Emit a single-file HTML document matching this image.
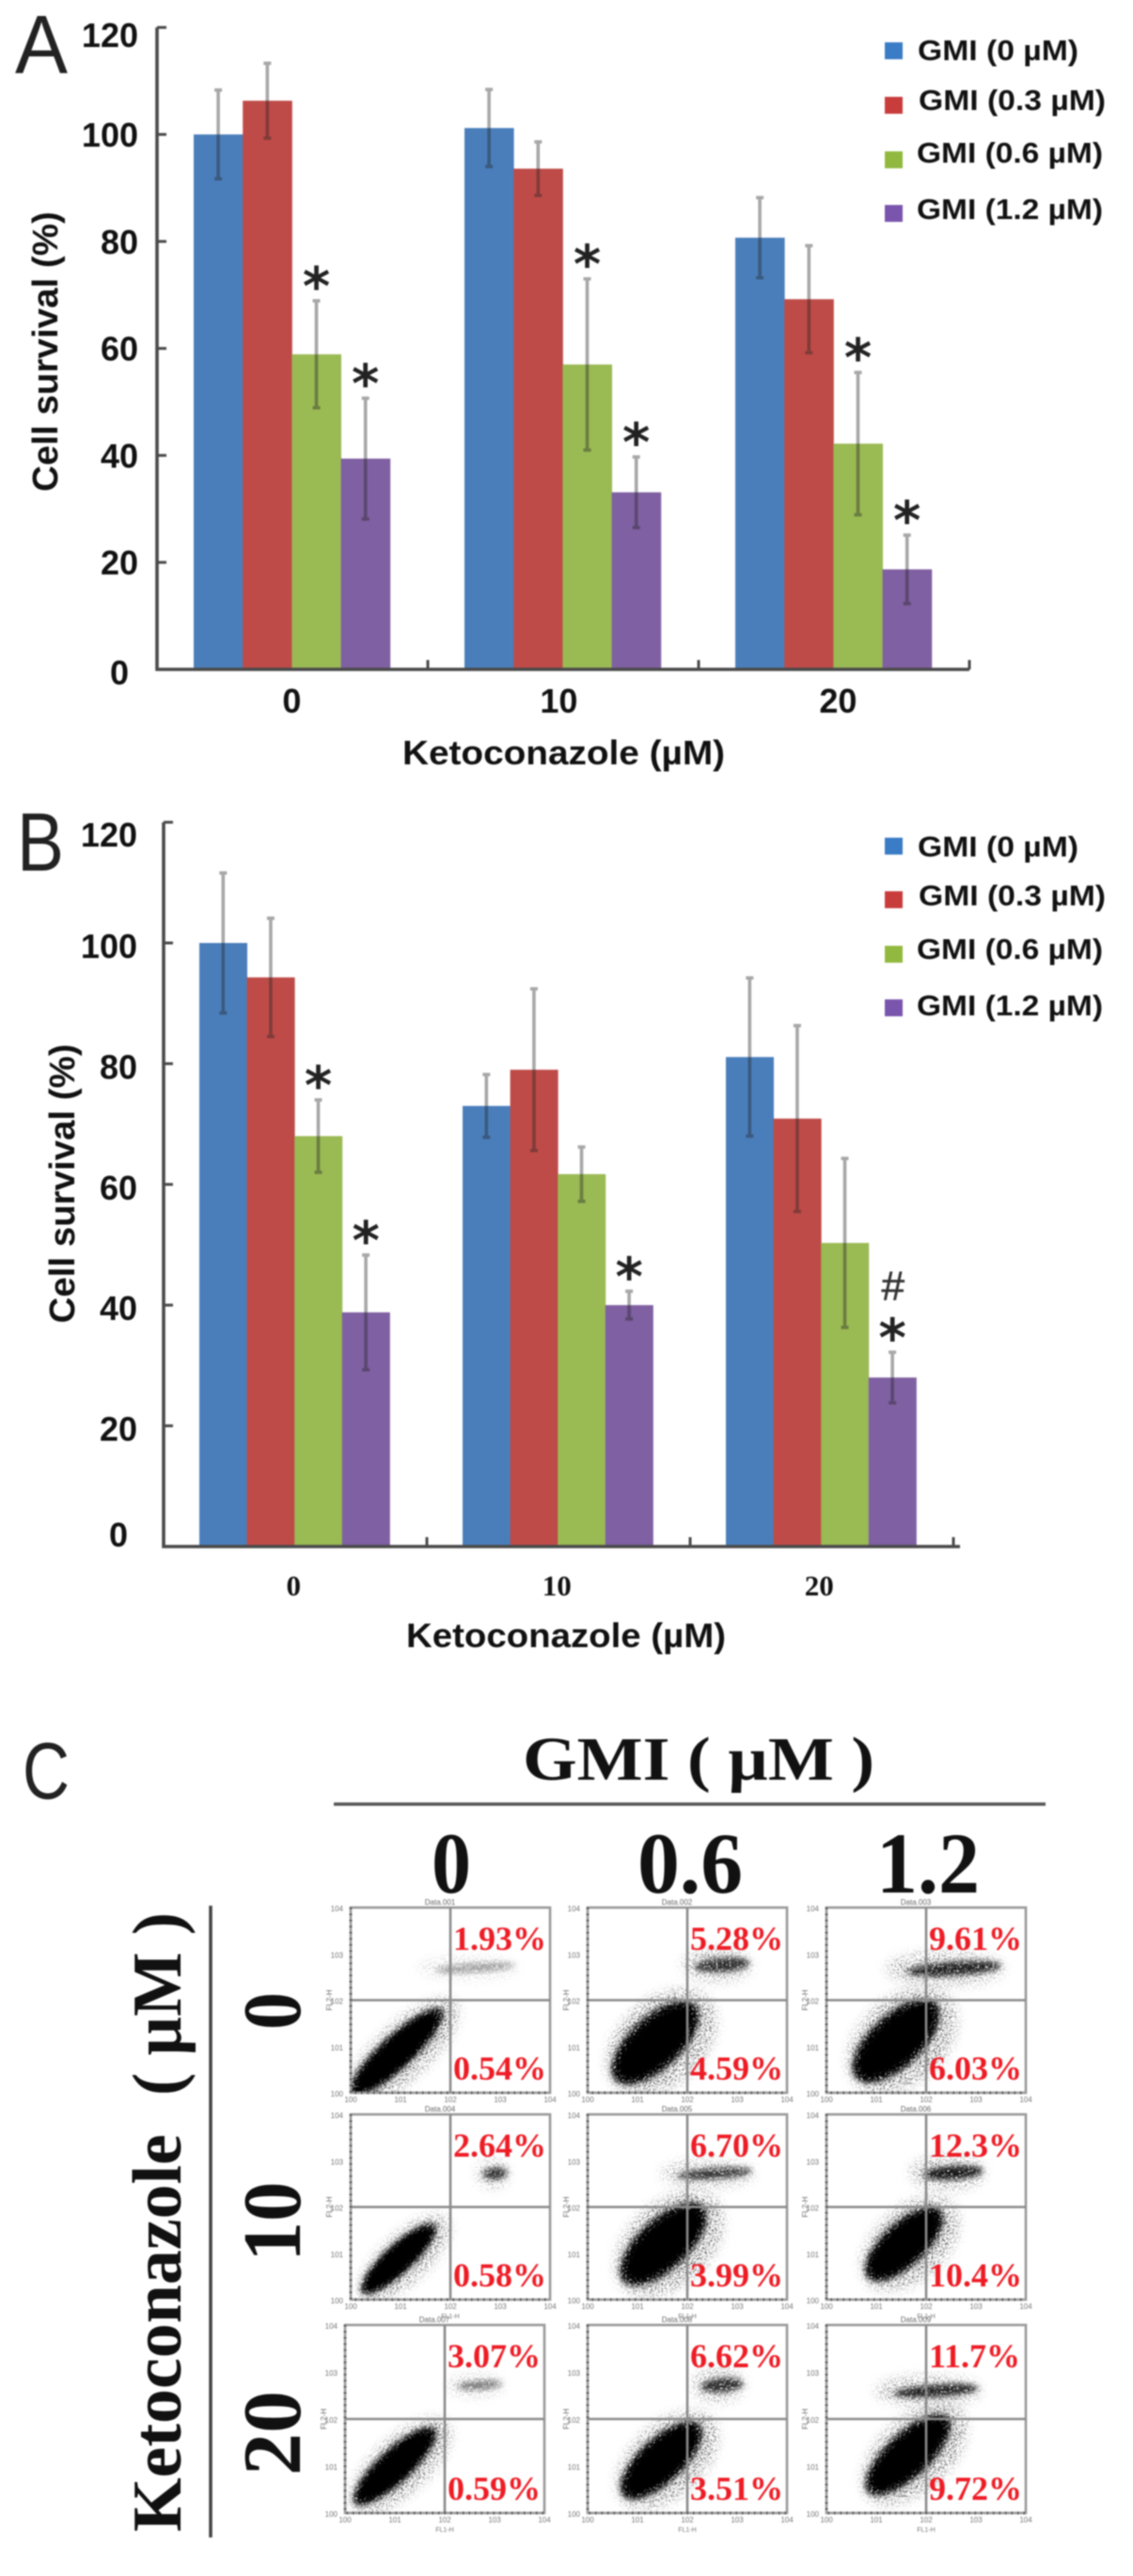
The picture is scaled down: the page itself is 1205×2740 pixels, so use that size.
<!DOCTYPE html>
<html lang="en">
<head>
<meta charset="utf-8">
<title>Cell survival and flow cytometry figure</title>
<style>
html,body{margin:0;padding:0;background:#fff;width:1205px;height:2740px;overflow:hidden}
#figure{display:block;filter:blur(.9px)}
text{font-family:"Liberation Sans",sans-serif}
.serif{font-family:"Liberation Serif",serif;font-weight:bold}
.bold{font-weight:bold;fill:#111}
</style>
</head>
<body>
<svg id="figure" xmlns="http://www.w3.org/2000/svg" width="1205" height="2740" viewBox="0 0 1205 2740">
<defs>
<filter id="scatterHalo" x="-40%" y="-40%" width="180%" height="180%">
<feGaussianBlur in="SourceGraphic" stdDeviation="6" result="soft"/>
<feTurbulence type="fractalNoise" baseFrequency="0.6" numOctaves="2" seed="7" result="noise"/>
<feColorMatrix in="noise" type="matrix" values="0 0 0 0 0  0 0 0 0 0  0 0 0 0 0  9 0 0 0 -4.7" result="mask"/>
<feComposite in="soft" in2="mask" operator="in"/>
</filter>
<filter id="scatterCore" x="-30%" y="-30%" width="160%" height="160%">
<feGaussianBlur in="SourceGraphic" stdDeviation="3" result="soft"/>
<feTurbulence type="fractalNoise" baseFrequency="0.5" numOctaves="2" seed="11" result="noise"/>
<feColorMatrix in="noise" type="matrix" values="0 0 0 0 0  0 0 0 0 0  0 0 0 0 0  9 0 0 0 -2.8" result="mask"/>
<feComposite in="soft" in2="mask" operator="in"/>
</filter>
<filter id="scatterSolid" x="-30%" y="-30%" width="160%" height="160%">
<feGaussianBlur stdDeviation="2"/>
</filter>
</defs>

<g>
<text x="16" y="78" font-size="88" fill="#222" textLength="56" lengthAdjust="spacingAndGlyphs">A</text>
<text class="bold" font-size="38" text-anchor="middle" textLength="298" lengthAdjust="spacingAndGlyphs" transform="translate(61 374) rotate(-90)">Cell survival (%)</text>
<text class="bold" font-size="36" x="428" y="813" textLength="343" lengthAdjust="spacingAndGlyphs">Ketoconazole (µM)</text>
<g id="panelA"></g>
<g>
<rect x="941" y="45" width="19" height="18" fill="#3b7cc6"/>
<text class="bold" font-size="31" x="976" y="64" textLength="171" lengthAdjust="spacingAndGlyphs">GMI (0 µM)</text>
<rect x="941" y="103" width="19" height="18" fill="#c93c3c"/>
<text class="bold" font-size="31" x="977" y="117" textLength="199" lengthAdjust="spacingAndGlyphs">GMI (0.3 µM)</text>
<rect x="941" y="161" width="19" height="18" fill="#92b93f"/>
<text class="bold" font-size="31" x="975" y="173" textLength="198" lengthAdjust="spacingAndGlyphs">GMI (0.6 µM)</text>
<rect x="941" y="218" width="19" height="18" fill="#7a55ad"/>
<text class="bold" font-size="31" x="975" y="233" textLength="198" lengthAdjust="spacingAndGlyphs">GMI (1.2 µM)</text>
</g>
</g>

<g>
<text x="18" y="926" font-size="88" fill="#222" textLength="50" lengthAdjust="spacingAndGlyphs">B</text>
<text class="bold" font-size="38" text-anchor="middle" textLength="297" lengthAdjust="spacingAndGlyphs" transform="translate(79 1259) rotate(-90)">Cell survival (%)</text>
<text class="bold" font-size="36" x="432" y="1752" textLength="340" lengthAdjust="spacingAndGlyphs">Ketoconazole (µM)</text>
<g id="panelB"></g>
<g>
<rect x="941" y="891" width="19" height="18" fill="#3b7cc6"/>
<text class="bold" font-size="31" x="976" y="911" textLength="171" lengthAdjust="spacingAndGlyphs">GMI (0 µM)</text>
<rect x="941" y="948" width="19" height="18" fill="#c93c3c"/>
<text class="bold" font-size="31" x="977" y="963" textLength="199" lengthAdjust="spacingAndGlyphs">GMI (0.3 µM)</text>
<rect x="941" y="1006" width="19" height="18" fill="#92b93f"/>
<text class="bold" font-size="31" x="975" y="1020" textLength="198" lengthAdjust="spacingAndGlyphs">GMI (0.6 µM)</text>
<rect x="941" y="1063" width="19" height="18" fill="#7a55ad"/>
<text class="bold" font-size="31" x="975" y="1080" textLength="198" lengthAdjust="spacingAndGlyphs">GMI (1.2 µM)</text>
</g>
</g>

<g>
<text x="24" y="1913" font-size="85" fill="#222" textLength="50" lengthAdjust="spacingAndGlyphs">C</text>
<text class="serif" font-size="66" x="556" y="1893" textLength="374" lengthAdjust="spacingAndGlyphs" fill="#111">GMI ( µM )</text>
<line x1="355" y1="1919" x2="1112" y2="1919" stroke="#555" stroke-width="3.5"/>
<text class="serif" font-size="92" x="459" y="2013" textLength="42" lengthAdjust="spacingAndGlyphs" fill="#111">0</text>
<text class="serif" font-size="92" x="678" y="2013" textLength="112" lengthAdjust="spacingAndGlyphs" fill="#111">0.6</text>
<text class="serif" font-size="92" x="932" y="2013" textLength="110" lengthAdjust="spacingAndGlyphs" fill="#111">1.2</text>
<line x1="224" y1="2027" x2="224" y2="2699" stroke="#444" stroke-width="3.5"/>
<text class="serif" font-size="74" textLength="423" lengthAdjust="spacingAndGlyphs" fill="#111" transform="translate(192 2693) rotate(-90)">Ketoconazole</text>
<text class="serif" font-size="74" textLength="195" lengthAdjust="spacingAndGlyphs" fill="#111" transform="translate(192 2229) rotate(-90)">( µM )</text>
<text class="serif" font-size="88" text-anchor="middle" textLength="40" lengthAdjust="spacingAndGlyphs" fill="#111" transform="translate(319 2139) rotate(-90)">0</text>
<text class="serif" font-size="88" text-anchor="middle" textLength="85" lengthAdjust="spacingAndGlyphs" fill="#111" transform="translate(319 2363) rotate(-90)">10</text>
<text class="serif" font-size="88" text-anchor="middle" textLength="90" lengthAdjust="spacingAndGlyphs" fill="#111" transform="translate(319 2588) rotate(-90)">20</text>
<g id="panelC"></g>
</g>
</svg>

<script>
// ---- Bar chart data ----
const barCategories = ['0', '10', '20'];
const seriesNames = ['gmi-0', 'gmi-0-3', 'gmi-0-6', 'gmi-1-2'];
const seriesColors = ['#4a7ebb', '#be4b48', '#9aba54', '#7f60a2'];
const yTickValues = [0, 20, 40, 60, 80, 100, 120];

const panelAGmi0 = [100, 101.2, 80.7];
const panelAGmi03 = [106.3, 93.6, 69.2];
const panelAGmi06 = [58.9, 57, 42.2];
const panelAGmi12 = [39.4, 33.1, 18.7];
const panelAErr0 = [8.3, 7.2, 7.5];
const panelAErr03 = [7, 5, 10];
const panelAErr06 = [10, 16, 13.3];
const panelAErr12 = [11.3, 6.6, 6.4];
const panelAStar06 = [1, 1, 1];
const panelAStar12 = [1, 1, 1];

const panelBGmi0 = [100, 73, 81.1];
const panelBGmi03 = [94.3, 79, 70.9];
const panelBGmi06 = [68, 61.7, 50.3];
const panelBGmi12 = [38.8, 40, 28];
const panelBErr0 = [11.6, 5.2, 13.1];
const panelBErr03 = [9.8, 13.4, 15.4];
const panelBErr06 = [6, 4.5, 14];
const panelBErr12 = [9.5, 2.3, 4.2];
const panelBStar06 = [1, 0, 0];
const panelBStar12 = [1, 1, 1];
const panelBHash12 = [0, 0, 1];

// ---- Flow cytometry data (percentages printed; cluster centres in log10 decades) ----
const upperRightPercent = ['1.93%', '5.28%', '9.61%', '2.64%', '6.70%', '12.3%', '3.07%', '6.62%', '11.7%'];
const lowerRightPercent = ['0.54%', '4.59%', '6.03%', '0.58%', '3.99%', '10.4%', '0.59%', '3.51%', '9.72%'];
const lowerLogX = [0.92, 1.36, 1.40, 0.96, 1.52, 1.56, 1.00, 1.48, 1.64];
const lowerLogY = [0.88, 1.08, 1.12, 0.88, 1.20, 1.20, 1.00, 1.12, 1.24];
const lowerSpreadAlong = [1.25, 1.10, 1.10, 1.00, 1.10, 1.00, 1.10, 1.05, 1.10];
const lowerSpreadAcross = [0.38, 0.60, 0.60, 0.33, 0.58, 0.50, 0.38, 0.50, 0.50];
const upperLogX = [2.50, 2.70, 2.56, 2.90, 2.55, 2.54, 2.70, 2.70, 2.20];
const upperLogY = [2.70, 2.76, 2.68, 2.72, 2.72, 2.74, 2.72, 2.72, 2.60];
const upperSpreadX = [0.80, 0.55, 0.95, 0.25, 0.75, 0.60, 0.45, 0.42, 0.85];
const upperSpreadY = [0.10, 0.15, 0.15, 0.13, 0.12, 0.15, 0.10, 0.15, 0.13];
const upperDensity = [0.35, 0.85, 0.90, 0.80, 0.80, 0.95, 0.50, 0.85, 0.90];
const decadeTicks = [0, 1, 2, 3, 4];

const SVGNS = 'http://www.w3.org/2000/svg';
function el(parent, tag, attrs, txt) {
  const n = document.createElementNS(SVGNS, tag);
  for (const k in attrs) n.setAttribute(k, attrs[k]);
  if (txt !== undefined) n.textContent = txt;
  parent.appendChild(n);
  return n;
}

function drawBars(root, prefix, cfg, values, errors, stars, hashes) {
  const y = v => cfg.y0 - v * cfg.unit;
  const barX = (g, s) => cfg.x0 + g * cfg.band + s * cfg.barW;
  const sep = cfg.labelOffset;

  values.forEach((series, s) => {
    series.forEach((v, g) => {
      const bar = el(root, 'rect', {x: barX(g, s), y: y(v), width: cfg.barW + 0.4, height: cfg.y0 - y(v), fill: seriesColors[s]});
      
      
    });
  });

  values.forEach((series, s) => {
    series.forEach((v, g) => {
      const cx = barX(g, s) + cfg.barW / 2;
      const e = errors[s][g];
      const eb = el(root, 'path', {
        d: `M${cx} ${y(v + e)}V${y(v - e)}M${cx - 4} ${y(v + e)}H${cx + 4}M${cx - 4} ${y(v - e)}H${cx + 4}`,
        stroke: '#222', 'stroke-opacity': 0.4, 'stroke-width': 3.6, fill: 'none'
      });
      
      
      if (stars[s] && stars[s][g]) {
        const star = el(root, 'text', {x: cx, y: y(v + e) - 25 + 29, 'text-anchor': 'middle', 'font-size': 56, 'font-weight': 'bold', fill: '#222', style: 'font-family:"DejaVu Sans",sans-serif'}, '*');
        
        
      }
      if (hashes && hashes[s] && hashes[s][g]) {
        const hash = el(root, 'text', {x: cx, y: y(v + e) - 56, 'text-anchor': 'middle', 'font-size': 44, fill: '#333', stroke: '#333', 'stroke-width': 0.6, 'font-style': 'italic'}, '#');
        
        
      }
    });
  });

  const axis = el(root, 'path', {d: `M${cfg.axisX} ${y(120)}V${cfg.y0}H${cfg.axisEnd}`, stroke: '#4a4a4a', 'stroke-width': 3.6, fill: 'none'});
  
  

  yTickValues.forEach(v => {
    if (v > 0) {
      const t = el(root, 'line', {x1: cfg.axisX, x2: cfg.axisX + 10, y1: y(v), y2: y(v), stroke: '#4a4a4a', 'stroke-width': 3});
      
      
    }
    const extra = v === 120 ? cfg.topNudge : (v === 0 ? cfg.zeroNudge : 0);
    const lab = el(root, 'text', {x: v === 0 ? cfg.labelRight - 10 : cfg.labelRight, y: y(v) + sep + extra, 'text-anchor': 'end', 'font-size': 36, class: 'bold'}, String(v));
    
    
  });

  barCategories.forEach((c, g) => {
    const tx = cfg.axisX + (g + 1) * cfg.band;
    const t = el(root, 'line', {x1: tx, x2: tx, y1: cfg.y0, y2: cfg.y0 - 10, stroke: '#4a4a4a', 'stroke-width': 3});
    
    
    const lab = el(root, 'text', Object.assign({x: cfg.x0 + g * cfg.band + 2 * cfg.barW + cfg.catShift[g], y: cfg.catY, 'text-anchor': 'middle', 'font-size': cfg.catSize}, cfg.catSerif ? {class: 'serif', fill: '#111'} : {class: 'bold'}), c);
    
    
  });
}

drawBars(document.getElementById('panelA'), 'panel-a',
  {x0: 206, band: 288, barW: 52.2, y0: 712, unit: 5.69, axisX: 167, axisEnd: 1031, labelRight: 147, labelOffset: 13, topNudge: 8, zeroNudge: 3, catY: 758, catSize: 36, catShift: [0, -4, 5], catSerif: false},
  [panelAGmi0, panelAGmi03, panelAGmi06, panelAGmi12],
  [panelAErr0, panelAErr03, panelAErr06, panelAErr12],
  [null, null, panelAStar06, panelAStar12], null);

drawBars(document.getElementById('panelB'), 'panel-b',
  {x0: 212, band: 280, barW: 50.6, y0: 1645, unit: 6.42, axisX: 174, axisEnd: 1021, labelRight: 146, labelOffset: 16, topNudge: 10, zeroNudge: -16, catY: 1697, catSize: 31, catShift: [-1, -1, -2], catSerif: true},
  [panelBGmi0, panelBGmi03, panelBGmi06, panelBGmi12],
  [panelBErr0, panelBErr03, panelBErr06, panelBErr12],
  [null, null, panelBStar06, panelBStar12],
  [null, null, null, panelBHash12]);

// ---- Flow cytometry grid ----
function frameLeft(r, c) { return [373, 625, 879][c] + (r === 2 && c === 0 ? -6 : 0); }
function frameTop(r) { return [2029, 2249, 2473][r]; }
function frameHeight(r) { return [197, 197, 200][r]; }

const panelC = document.getElementById('panelC');
for (let r = 0; r < 3; r++) {
  for (let c = 0; c < 3; c++) {
    const i = r * 3 + c;
    const left = frameLeft(r, c), top = frameTop(r), h = frameHeight(r), w = 212;
    const xLog = l => left + l * w / 4;
    const yLog = l => top + h - l * h / 4;
    const g = el(panelC, 'g', {});
    
    

    const clip = el(g, 'clipPath', {id: `clip${i}`});
    el(clip, 'rect', {x: left, y: top, width: w, height: h});
    const dots = el(g, 'g', {'clip-path': `url(#clip${i})`});

    const ang = -43;
    const lcx = xLog(lowerLogX[i]), lcy = yLog(lowerLogY[i]);
    const halo = el(dots, 'ellipse', {cx: lcx + 5, cy: lcy + 4, rx: lowerSpreadAlong[i] * w / 4 * 1.15, ry: lowerSpreadAcross[i] * h / 4 * 1.5, fill: '#000', opacity: 0.7, transform: `rotate(${ang} ${lcx} ${lcy})`, filter: 'url(#scatterHalo)'});
    
    
    const core = el(dots, 'ellipse', {cx: lcx, cy: lcy, rx: lowerSpreadAlong[i] * w / 4, ry: lowerSpreadAcross[i] * h / 4 * 0.95, fill: '#050505', transform: `rotate(${ang} ${lcx} ${lcy})`, filter: 'url(#scatterCore)'});
    
    
    const solid = el(dots, 'ellipse', {cx: lcx, cy: lcy, rx: lowerSpreadAlong[i] * w / 4 * 0.86, ry: lowerSpreadAcross[i] * h / 4 * 0.72, fill: '#000', transform: `rotate(${ang} ${lcx} ${lcy})`, filter: 'url(#scatterSolid)'});
    
    

    const ucx = xLog(upperLogX[i]), ucy = yLog(upperLogY[i]);
    const uHalo = el(dots, 'ellipse', {cx: ucx - upperSpreadX[i] * 10, cy: ucy, rx: upperSpreadX[i] * w / 4 * 1.25, ry: upperSpreadY[i] * h / 4 * 2.4, fill: '#000', opacity: upperDensity[i] * 0.6, filter: 'url(#scatterHalo)'});
    
    
    const uCore = el(dots, 'ellipse', {cx: ucx, cy: ucy, rx: upperSpreadX[i] * w / 4, ry: upperSpreadY[i] * h / 4, fill: '#111', opacity: upperDensity[i], transform: `rotate(-4 ${ucx} ${ucy})`, filter: 'url(#scatterCore)'});
    
    

    const frame = el(g, 'rect', {x: left, y: top, width: w, height: h, fill: 'none', stroke: '#9a9a9a', 'stroke-width': 2.6});
    
    
    const gateV = el(g, 'line', {x1: xLog(2), x2: xLog(2), y1: top, y2: top + h, stroke: '#8a8a8a', 'stroke-width': 2.6});
    
    
    const gateH = el(g, 'line', {x1: left, x2: left + w, y1: yLog(2), y2: yLog(2), stroke: '#8a8a8a', 'stroke-width': 2.6});
    
    
    const minorTicks = el(g, 'path', {d: `M${left} ${top}V${top + h}H${left + w}`, fill: 'none', stroke: '#555', 'stroke-width': 3, 'stroke-dasharray': '1.5 5'});
    
    

    decadeTicks.forEach(d => {
      const ty = el(g, 'text', {x: left - 8, y: yLog(d) + 4, 'text-anchor': 'end', 'font-size': 8, fill: '#777'}, '10' + d);
      
      
      const tx = el(g, 'text', {x: xLog(d), y: top + h + 10, 'text-anchor': 'middle', 'font-size': 8, fill: '#777'}, '10' + d);
      
      
    });
    const title = el(g, 'text', {x: xLog(2) - 11, y: top - 3, 'text-anchor': 'middle', 'font-size': 8, fill: '#666'}, 'Data.00' + (i + 1));
    
    
    const yName = el(g, 'text', {'text-anchor': 'middle', 'font-size': 8, fill: '#666', transform: `translate(${left - 20} ${yLog(2)}) rotate(-90)`}, 'FL2-H');
    
    
    if (r > 0) {
      const xName = el(g, 'text', {x: xLog(2), y: top + h + 20, 'text-anchor': 'middle', 'font-size': 7, fill: '#777'}, 'FL1-H');
      
      
    }

    const up = el(g, 'text', {x: xLog(2) + 3, y: top + 45, 'font-size': 36, class: 'serif', fill: '#ee1c25'}, upperRightPercent[i]);
    
    
    const low = el(g, 'text', {x: xLog(2) + 3, y: top + h - 14, 'font-size': 36, class: 'serif', fill: '#ee1c25'}, lowerRightPercent[i]);
    
    
  }
}
</script>
</body>
</html>
